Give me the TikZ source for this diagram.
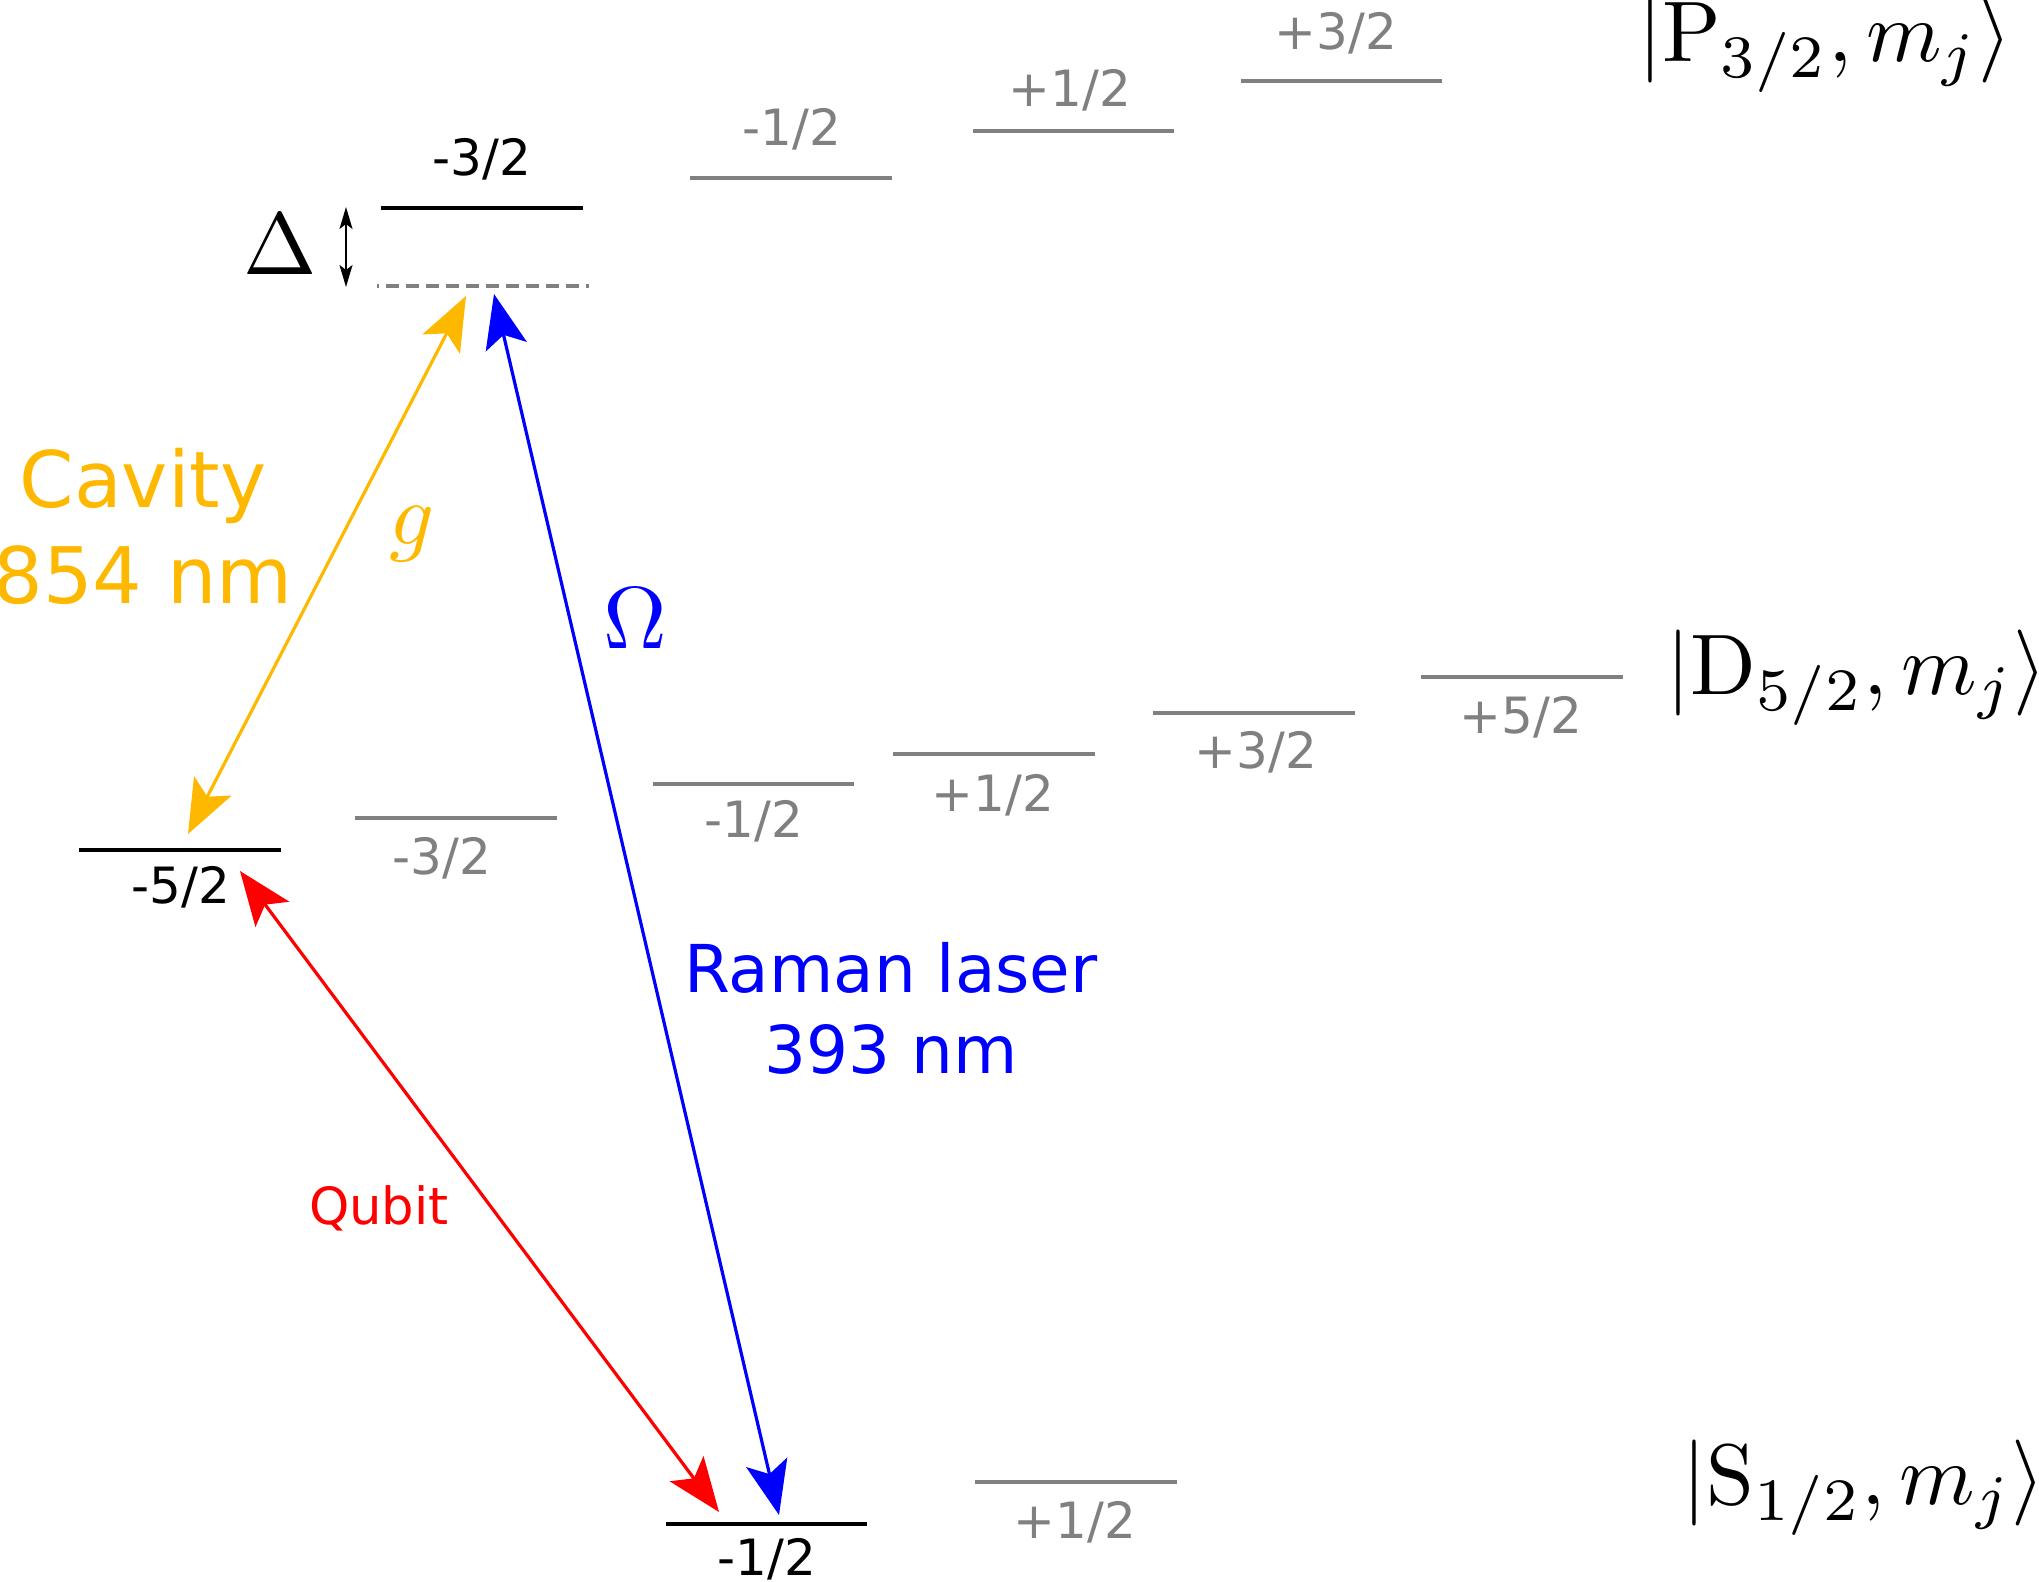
\documentclass[tikz,border=0pt]{standalone}
\usepackage{fontspec}
\newfontfamily\dv{DejaVu Sans}
\usetikzlibrary{arrows.meta}
\definecolor{cavorange}{RGB}{255,184,0}
\definecolor{levgray}{RGB}{128,128,128}
\definecolor{ramanblue}{RGB}{0,0,255}
\definecolor{qubitred}{RGB}{255,0,0}
\begin{document}
\begin{tikzpicture}[x=0.5pt,y=-0.5pt,
  lev/.style={line width=2pt, black},
  glev/.style={line width=2pt, levgray},
  mlab/.style={font=\dv\fontsize{25}{30}\selectfont, inner sep=0pt},
  glab/.style={mlab, text=levgray},
  bigtip/.tip={Stealth[length=27pt,width=21pt,inset=6pt]},
  trans/.style={line width=1.6pt, {bigtip}-{bigtip}},
  ket/.style={scale=4.3, inner sep=0pt},
  sym/.style={scale=4.4, inner sep=0pt}
]
\useasboundingbox (0,0) rectangle (2039,1582);

% ---------- P3/2 manifold ----------
\coordinate (Pm3a) at (381,208); \coordinate (Pm3b) at (583,208);
\coordinate (Pva) at (377,286);  \coordinate (Pvb) at (589,286);
\coordinate (Pm1a) at (690,178); \coordinate (Pm1b) at (892,178);
\coordinate (Pp1a) at (973,131); \coordinate (Pp1b) at (1174,131);
\coordinate (Pp3a) at (1241,81); \coordinate (Pp3b) at (1442,81);
\draw[lev] (Pm3a) -- (Pm3b);
\draw[glev, line width=2.2pt, dash pattern=on 6.5pt off 3.5pt, dash phase=5.5pt] (Pva) -- (Pvb);
\draw[glev] (Pm1a) -- (Pm1b);
\draw[glev] (Pp1a) -- (Pp1b);
\draw[glev] (Pp3a) -- (Pp3b);
\node[mlab] (lPm3) at (482,159) {-3/2};
\node[glab] (lPm1) at (792,129) {-1/2};
\node[glab] (lPp1) at (1070,90) {+1/2};
\node[glab] (lPp3) at (1336,33) {+3/2};
\node[ket] (ketP) at (1825,45) {$|\mathrm{P}_{3/2}, m_j\rangle$};

% ---------- D5/2 manifold ----------
\coordinate (Dm5a) at (79,850);  \coordinate (Dm5b) at (281,850);
\coordinate (Dm3a) at (355,818); \coordinate (Dm3b) at (557,818);
\coordinate (Dm1a) at (653,784); \coordinate (Dm1b) at (854,784);
\coordinate (Dp1a) at (893,754); \coordinate (Dp1b) at (1095,754);
\coordinate (Dp3a) at (1153,713); \coordinate (Dp3b) at (1355,713);
\coordinate (Dp5a) at (1421,677); \coordinate (Dp5b) at (1623,677);
\draw[lev] (Dm5a) -- (Dm5b);
\draw[glev] (Dm3a) -- (Dm3b);
\draw[glev] (Dm1a) -- (Dm1b);
\draw[glev] (Dp1a) -- (Dp1b);
\draw[glev] (Dp3a) -- (Dp3b);
\draw[glev] (Dp5a) -- (Dp5b);
\node[mlab] (lDm5) at (181,887) {-5/2};
\node[glab] (lDm3) at (442,858) {-3/2};
\node[glab] (lDm1) at (754,821) {-1/2};
\node[glab] (lDp1) at (993,795) {+1/2};
\node[glab] (lDp3) at (1256,752) {+3/2};
\node[glab] (lDp5) at (1521,717) {+5/2};
\node[ket] (ketD) at (1857,678) {$|\mathrm{D}_{5/2}, m_j\rangle$};

% ---------- S1/2 manifold ----------
\coordinate (Sm1a) at (666,1524); \coordinate (Sm1b) at (867,1524);
\coordinate (Sp1a) at (975,1482); \coordinate (Sp1b) at (1177,1482);
\draw[lev] (Sm1a) -- (Sm1b);
\draw[glev] (Sp1a) -- (Sp1b);
\node[mlab] (lSm1) at (767,1559) {-1/2};
\node[glab] (lSp1) at (1075,1522) {+1/2};
\node[ket] (ketS) at (1864,1488) {$|\mathrm{S}_{1/2}, m_j\rangle$};

% ---------- detuning ----------
\coordinate (dTop) at (346,207);
\coordinate (dBot) at (346,287);
\draw[line width=0.9pt, {Stealth[length=11pt,width=6.5pt,inset=2.5pt]}-{Stealth[length=11pt,width=6.5pt,inset=2.5pt]}] (dTop) -- (dBot);
\node[sym] (Delta) at (280,244) {$\Delta$};

% ---------- transitions ----------
\coordinate (cavTop) at (466,296);
\coordinate (cavBot) at (188,834);
\coordinate (ramTop) at (494,294);
\coordinate (ramBot) at (779,1515);
\coordinate (qubTop) at (240,871);
\coordinate (qubBot) at (719,1512);
\draw[trans, cavorange] (cavTop) -- (cavBot);
\draw[trans, ramanblue] (ramTop) -- (ramBot);
\draw[trans, qubitred] (qubTop) -- (qubBot);

\node[sym, text=cavorange] (g) at (412,534) {$g$};
\node[sym, text=ramanblue] (Omega) at (635,618) {$\Omega$};
\node[align=center, text=cavorange, inner sep=0pt, font=\dv\fontsize{39}{48}\selectfont] (cavlab) at (143,526) {Cavity\\854 nm};
\node[align=center, text=ramanblue, inner sep=0pt, font=\dv\fontsize{33}{40.5}\selectfont] (ramlab) at (891,1008) {Raman laser\\393 nm};
\node[text=qubitred, inner sep=0pt, font=\dv\fontsize{25.6}{30}\selectfont] (qublab) at (379,1208) {Qubit};
\end{tikzpicture}
\end{document}
